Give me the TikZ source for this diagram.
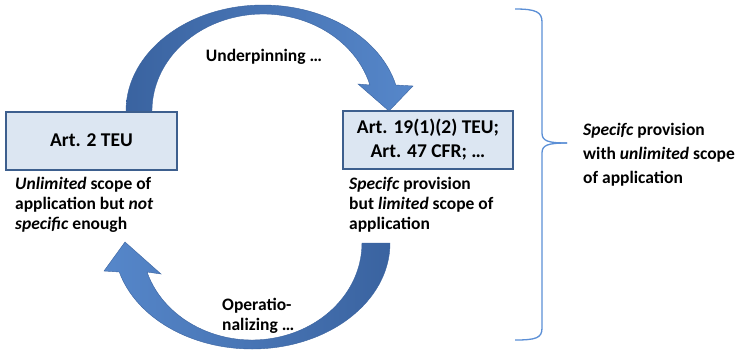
\documentclass[tikz,border=0pt]{standalone}
\usepackage{fontspec}
\setmainfont{Carlito}
\definecolor{boxfill}{HTML}{DCE6F2}
\definecolor{boxline}{HTML}{3D5F8E}
\definecolor{arrowA}{HTML}{5687CA}
\definecolor{arrowB}{HTML}{3A63A0}
\definecolor{bracecol}{HTML}{5B8FD6}
\begin{document}
\begin{tikzpicture}[x=1pt,y=-1pt,
  box/.style={draw=boxline, line width=2pt, fill=boxfill, minimum width=171pt, minimum height=58pt, inner sep=0pt, font=\fontsize{19.5}{24}\selectfont\bfseries, align=center},
  lbl/.style={inner sep=0pt, font=\fontsize{17.5}{20}\selectfont\bfseries, align=left},
  toparrow/.style={left color=arrowB, right color=arrowA, draw=arrowB, line width=0.4pt},
  botarrow/.style={left color=arrowA, right color=arrowB, draw=arrowB, line width=0.4pt},
  bracestyle/.style={draw=bracecol, line width=1.3pt}]
\fill[white] (0,0) rectangle (738,349);
\useasboundingbox (0,0) rectangle (738,349);
% block arrows
\path[toparrow] (126,111) arc[start angle=180, end angle=345.8, x radius=137, y radius=106]
  -- (413,86) -- (389,111) -- (358,84) -- (369.9,85)
  arc[start angle=344.45, end angle=180, x radius=111, y radius=97] -- cycle;
\path[botarrow] (390,243) arc[start angle=0, end angle=164.12, x radius=138, y radius=106]
  -- (104,271) -- (125,242) -- (161,274) -- (147,272)
  arc[start angle=162.6, end angle=0, x radius=110, y radius=97] -- cycle;
% boxes
\node[box] (teu2) at (91.5,140.5) {Art. 2 TEU};
\node[box, minimum width=170pt] (teu19) at (428,140) {Art. 19(1)(2) TEU;\\Art. 47 CFR; …};
% labels
\node[lbl, anchor=west] (d1) at (15,205) {\textit{Unlimited} scope of\\application but \textit{not}\\\textit{specific} enough};
\node[lbl, anchor=west] (d2) at (349,205) {\textit{Specifc} provision\\but \textit{limited} scope of\\application};
\node[lbl, anchor=west, font=\fontsize{17.5}{24}\selectfont\bfseries] (d3) at (583,155) {\textit{Specifc} provision\\with \textit{unlimited} scope\\of application};
\node[lbl] (u) at (264,57) {Underpinning …};
\node[lbl, anchor=west] (o) at (222,316) {Operatio-\\nalizing …};
% brace
\draw[bracestyle] (515,9) .. controls (536,9) and (542,12) .. (542,22) -- (542,133) .. controls (542,141) and (548,143) .. (567,143);
\draw[bracestyle] (567,143) .. controls (548,143) and (542,145) .. (542,153) -- (542,328) .. controls (542,338) and (536,340) .. (515,340);
\end{tikzpicture}
\end{document}
